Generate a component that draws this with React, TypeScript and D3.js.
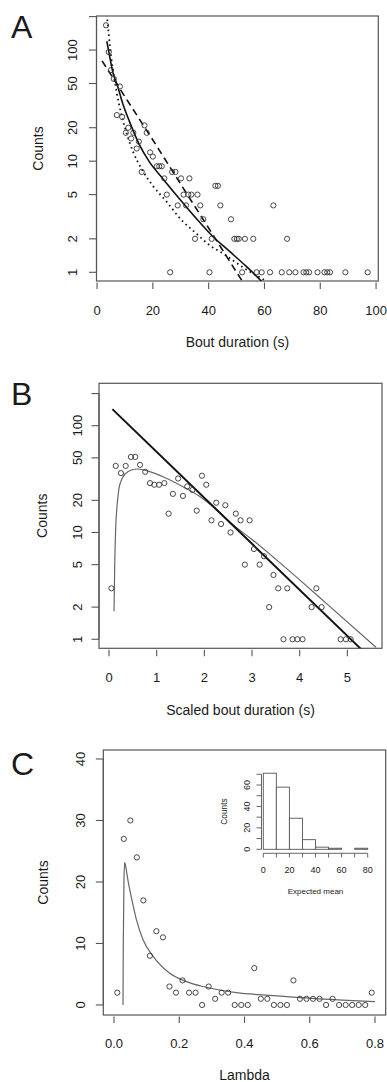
import React from 'react';
import * as d3 from 'd3';

// ---- panel A: bout duration (s) vs counts, log y ----
const boutDuration = [3.2, 4.2, 5, 6, 8.2, 7.1, 9, 10.3, 11.2, 12.2, 13, 14.2, 15, 16, 17, 17.8, 19, 20, 21.4, 22.3,
  23.2, 24.1, 25, 26.9, 28.1, 28.9, 30.1, 31, 31.9, 32.7, 33.1, 33.8, 35.1, 36, 37, 38.1, 41.1, 42.4, 43.3, 44.2,
  48, 49.2, 50.1, 50.8, 53, 56, 63.2, 68.1,
  26.2, 40.3, 52, 57.2, 59, 62, 66.2, 68.9, 71.1, 74, 75, 76, 79, 81.5, 82.5, 83.5, 89, 97];
const boutCounts = [167, 96, 66, 55, 47, 26, 25, 18, 20, 16, 18, 13, 15, 8, 21, 18, 12, 11, 9, 9,
  9, 7, 5, 8, 8, 4, 7, 5, 4, 5, 7, 5, 2, 5, 4, 3, 2, 6, 6, 4,
  3, 2, 2, 2, 2, 2, 4, 2,
  1, 1, 1, 1, 1, 1, 1, 1, 1, 1, 1, 1, 1, 1, 1, 1, 1, 1];
// fitted curves
const solidX = [3.5, 4.4, 5.6, 7.4, 9.2, 11.6, 15.2, 18.7, 23.5, 29.5, 35.5, 41.5, 47.4, 53.4, 59];
const solidY = [120, 91, 64, 47, 33, 22.8, 14, 9.9, 7.0, 4.6, 3.06, 2.1, 1.55, 1.135, 0.83];
const dashX = [1.8, 10, 20, 30, 40, 52.2];
const dashY = [80, 38, 15.5, 6.2, 2.5, 0.82];
const dotX = [3.5, 5, 7, 10, 13, 16, 20, 25, 30, 35, 40, 46, 52, 61.2];
const dotY = [209, 89, 42, 20, 12, 8.5, 6.0, 4.3, 3.0, 2.3, 1.78, 1.43, 1.12, 0.82];
const aXTicks = [0, 20, 40, 60, 80, 100];
const logTicks = [1, 2, 5, 10, 20, 50, 100, 200];
const logLabels = ['1', '2', '5', '10', '20', '50', '100', ''];

// ---- panel B: scaled bout duration vs counts ----
const scaledDur = [0.05, 0.14, 0.25, 0.35, 0.46, 0.55, 0.65, 0.76, 0.86, 0.95, 1.05, 1.16, 1.25, 1.34, 1.45, 1.55,
  1.64, 1.75, 1.84, 1.95, 2.04, 2.15, 2.25, 2.35, 2.44, 2.55, 2.66, 2.76, 2.95, 2.85, 3.04, 3.16, 3.25, 3.36,
  3.45, 3.55, 3.74, 3.66, 3.85, 3.95, 4.06, 4.25, 4.35, 4.46, 4.86, 4.97, 5.07];
const scaledCounts = [3, 42, 36, 42, 51, 51, 43, 37, 29, 28, 28, 29, 15, 23, 32, 22,
  27, 25, 16, 34, 28, 13, 19, 12, 18, 10, 15, 13, 13, 5, 7, 5, 6, 2,
  4, 3, 3, 1, 1, 1, 1, 2, 3, 2, 1, 1, 1];
const expLineX = [0.07, 5.3];
const expLineY = [143, 0.8];
const fitX = [0.105, 0.12, 0.14, 0.17, 0.21, 0.28, 0.41, 0.59, 0.84, 1.19, 1.54, 1.89, 2.24, 2.6, 3.0, 3.5, 4.0, 4.6, 5.6];
const fitY = [1.83, 5, 11, 18, 26, 32.4, 37.4, 39.3, 37.4, 32.4, 27, 22, 16.6, 11.8, 8.6, 5.6, 3.6, 2.09, 0.84];
const bXTicks = [0, 1, 2, 3, 4, 5];

// ---- panel C: lambda vs counts ----
const lambda = [0.01, 0.03, 0.05, 0.07, 0.09, 0.11, 0.13, 0.15, 0.17, 0.19, 0.21, 0.23, 0.25, 0.27, 0.29, 0.31,
  0.33, 0.35, 0.37, 0.39, 0.41, 0.43, 0.45, 0.47, 0.49, 0.51, 0.53, 0.55, 0.57, 0.59, 0.61, 0.63, 0.65, 0.67,
  0.69, 0.71, 0.73, 0.75, 0.77, 0.79];
const lambdaCounts = [2, 27, 30, 24, 17, 8, 12, 11, 3, 2, 4, 2, 2, 0, 3, 1,
  2, 2, 0, 0, 0, 6, 1, 1, 0, 0, 0, 4, 1, 1, 1, 1, 0, 1,
  0, 0, 0, 0, 0, 2];
const lamCurveX = [0.0276, 0.0285, 0.0305, 0.0327, 0.036, 0.042, 0.05, 0.058, 0.068, 0.089, 0.12, 0.171, 0.222, 0.273, 0.324, 0.375, 0.477, 0.57, 0.7, 0.8];
const lamCurveY = [0, 10, 20, 23.2, 22.5, 20.5, 18.3, 16.3, 14, 10.6, 7.9, 5.15, 3.8, 3.0, 2.44, 2.0, 1.57, 1.2, 0.8, 0.55];
const cXTicks = [0, 0.2, 0.4, 0.6, 0.8];
const cYTicks = [0, 10, 20, 30, 40];

// inset histogram of expected means
const histEdges = [0, 10, 20, 30, 40, 50, 60, 70, 80];
const histCounts = [71, 58, 29, 9, 2, 1, 0, 1];
const histYTicks = [0, 10, 20, 30, 40, 50, 60, 70];
const histXTicks = [0, 10, 20, 30, 40, 50, 60, 70, 80];

const FONT = '"Liberation Sans", Arial, Helvetica, sans-serif';
const FRAME = '#555';
const INK = '#1a1a1a';

type S = (v: number) => number;

const zip = (xs: number[], ys: number[]) => xs.map((x, i) => [x, ys[i]] as [number, number]);

function Points({ xs, ys, sx, sy }: { xs: number[]; ys: number[]; sx: S; sy: S }) {
  return (
    <g>
      {xs.map((x, i) => (
        <circle key={i} cx={sx(x)} cy={sy(ys[i])} r={2.6} fill="none" stroke="#333" strokeWidth={0.9} />
      ))}
    </g>
  );
}

function Frame(props: {
  box: number[]; sx: S; sy: S; xTicks: number[]; xFmt: (v: number) => string;
  yTicks: number[]; yLabels: string[]; xLabY: number; yLabX: number;
  xTitle: string; xTitleY: number; yTitleX: number; letter: string; letterY: number;
}) {
  const { box, sx, sy } = props;
  const [x0, y0, x1, y1] = box;
  const cy = (y0 + y1) / 2;
  return (
    <g fontFamily={FONT} fill={INK}>
      <rect x={x0} y={y0} width={x1 - x0} height={y1 - y0} fill="none" stroke={FRAME} strokeWidth={1.2} />
      {props.xTicks.map((t) => (
        <g key={'x' + t}>
          <line x1={sx(t)} x2={sx(t)} y1={y1 + 1.5} y2={y1 + 8} stroke={FRAME} strokeWidth={1.1} />
          <text x={sx(t)} y={props.xLabY} textAnchor="middle" fontSize={13}>{props.xFmt(t)}</text>
        </g>
      ))}
      {props.yTicks.map((t, i) => (
        <g key={'y' + t}>
          <line x1={x0 - 7.5} x2={x0} y1={sy(t)} y2={sy(t)} stroke={FRAME} strokeWidth={1.1} />
          <text transform={`translate(${props.yLabX},${sy(t)}) rotate(-90)`} textAnchor="middle" fontSize={13}>
            {props.yLabels[i]}
          </text>
        </g>
      ))}
      <line x1={x0} x2={x0} y1={sy(props.yTicks[0])} y2={sy(props.yTicks[props.yTicks.length - 1])} stroke={FRAME} strokeWidth={1.1} />
      <text x={(x0 + x1) / 2} y={props.xTitleY} textAnchor="middle" fontSize={14}>{props.xTitle}</text>
      <text transform={`translate(${props.yTitleX},${cy}) rotate(-90)`} textAnchor="middle" fontSize={14}>Counts</text>
      <text x={11} y={props.letterY} fontSize={32}>{props.letter}</text>
    </g>
  );
}

export default function App() {
  // panel A
  const aBox = [96.5, 16, 378.3, 281];
  const ax = d3.scaleLinear().domain([-0.2, 100.8]).range([aBox[0], aBox[2]]);
  const ay = d3.scaleLog().domain([0.835, 202.5]).range([aBox[3], aBox[1]]);
  const aLine = d3.line<[number, number]>().x((d) => ax(d[0])).y((d) => ay(d[1])).curve(d3.curveMonotoneX);
  const aStraight = d3.line<[number, number]>().x((d) => ax(d[0])).y((d) => ay(d[1]));

  // panel B
  const bBox = [99, 383.3, 382, 648.3];
  const bx = d3.scaleLinear().domain([-0.21, 5.727]).range([bBox[0], bBox[2]]);
  const by = d3.scaleLog().domain([0.823, 249.5]).range([bBox[3], bBox[1]]);
  const bLine = d3.line<[number, number]>().x((d) => bx(d[0])).y((d) => by(d[1])).curve(d3.curveMonotoneX);
  const bStraight = d3.line<[number, number]>().x((d) => bx(d[0])).y((d) => by(d[1]));

  // panel C
  const cBox = [103.3, 750, 385.7, 1015];
  const cx = d3.scaleLinear().domain([-0.0328, 0.8328]).range([cBox[0], cBox[2]]);
  const cy = d3.scaleLinear().domain([-1.63, 41.46]).range([cBox[3], cBox[1]]);
  const cLine = d3.line<[number, number]>().x((d) => cx(d[0])).y((d) => cy(d[1])).curve(d3.curveMonotoneX);

  // inset
  const hx = d3.scaleLinear().domain([0, 80]).range([263.3, 367.7]);
  const hy = d3.scaleLinear().domain([0, 60]).range([849.3, 785]);

  const clip = (id: string, b: number[]) => (
    <clipPath id={id}>
      <rect x={b[0]} y={b[1]} width={b[2] - b[0]} height={b[3] - b[1]} />
    </clipPath>
  );

  return (
    <svg width={387} height={1082} style={{ position: 'absolute', left: 0, top: 0, background: '#fff' }}>
      <defs>
        {clip('clipA', aBox)}
        {clip('clipB', bBox)}
        {clip('clipC', cBox)}
      </defs>
      <rect width={387} height={1082} fill="#fff" />

      {/* A */}
      <Frame box={aBox} sx={ax} sy={ay} xTicks={aXTicks} xFmt={(v) => String(v)} yTicks={logTicks} yLabels={logLabels}
        xLabY={314.5} yLabX={76.5} xTitle="Bout duration (s)" xTitleY={347} yTitleX={43} letter="A" letterY={38} />
      <g clipPath="url(#clipA)" fill="none" stroke="#111">
        <path d={aLine(zip(solidX, solidY)) || ''} strokeWidth={1.6} />
        <path d={aStraight(zip(dashX, dashY)) || ''} strokeWidth={1.6} strokeDasharray="7,4.5" />
        <path d={aLine(zip(dotX, dotY)) || ''} strokeWidth={1.8} strokeDasharray="1.6,3.4" />
      </g>
      <Points xs={boutDuration} ys={boutCounts} sx={ax} sy={ay} />

      {/* B */}
      <Frame box={bBox} sx={bx} sy={by} xTicks={bXTicks} xFmt={(v) => String(v)} yTicks={logTicks} yLabels={logLabels}
        xLabY={681.5} yLabX={81.5} xTitle="Scaled bout duration (s)" xTitleY={715} yTitleX={46.5} letter="B" letterY={405} />
      <g clipPath="url(#clipB)" fill="none">
        <path d={bLine(zip(fitX, fitY)) || ''} stroke="#666" strokeWidth={1.2} />
        <path d={bStraight(zip(expLineX, expLineY)) || ''} stroke="#111" strokeWidth={2} />
      </g>
      <Points xs={scaledDur} ys={scaledCounts} sx={bx} sy={by} />

      {/* C */}
      <Frame box={cBox} sx={cx} sy={cy} xTicks={cXTicks} xFmt={(v) => v.toFixed(1)} yTicks={cYTicks} yLabels={cYTicks.map(String)}
        xLabY={1048} yLabX={85} xTitle="Lambda" xTitleY={1079.5} yTitleX={48} letter="C" letterY={775} />
      <g clipPath="url(#clipC)" fill="none">
        <path d={cLine(zip(lamCurveX, lamCurveY)) || ''} stroke="#666" strokeWidth={1.2} />
      </g>
      <Points xs={lambda} ys={lambdaCounts} sx={cx} sy={cy} />

      {/* inset histogram */}
      <g fontFamily={FONT} fill={INK}>
        {histCounts.map((c, i) => (
          <rect key={i} x={hx(histEdges[i])} y={hy(c)} width={hx(histEdges[i + 1]) - hx(histEdges[i])}
            height={hy(0) - hy(c)} fill="#fff" stroke="#555" strokeWidth={0.9} />
        ))}
        <line x1={261.5} x2={261.5} y1={hy(0)} y2={hy(70)} stroke="#555" strokeWidth={0.9} />
        {histYTicks.map((t) => (
          <line key={'hy' + t} x1={256.5} x2={261.5} y1={hy(t)} y2={hy(t)} stroke="#555" strokeWidth={0.9} />
        ))}
        {[0, 20, 40, 60].map((t) => (
          <text key={'hl' + t} transform={`translate(249.5,${hy(t)}) rotate(-90)`} textAnchor="middle" fontSize={9}>{t}</text>
        ))}
        <line x1={hx(0)} x2={hx(80)} y1={853.3} y2={853.3} stroke="#555" strokeWidth={0.9} />
        {histXTicks.map((t) => (
          <line key={'hx' + t} x1={hx(t)} x2={hx(t)} y1={853.3} y2={857.5} stroke="#555" strokeWidth={0.9} />
        ))}
        {[0, 20, 40, 60, 80].map((t) => (
          <text key={'hxl' + t} x={hx(t)} y={872.5} textAnchor="middle" fontSize={9}>{t}</text>
        ))}
        <text transform={`translate(226.5,811.5) rotate(-90)`} textAnchor="middle" fontSize={8.3}>Counts</text>
        <text x={315.5} y={893.5} textAnchor="middle" fontSize={8}>Expected mean</text>
      </g>
    </svg>
  );
}
